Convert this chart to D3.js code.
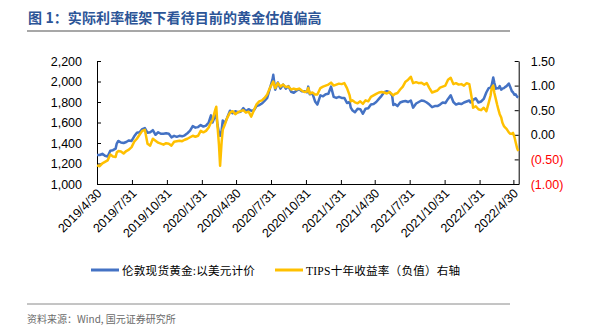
<!DOCTYPE html>
<html><head><meta charset="utf-8">
<script src="https://cdn.jsdelivr.net/npm/d3@7"></script>
<style>
html,body{margin:0;padding:0;background:#fff;}
svg{display:block;}
</style></head>
<body><svg id="c" width="594" height="329"></svg>
<script>
const title = "图 1：实际利率框架下看待目前的黄金估值偏高";
const source = "资料来源：Wind, 国元证券研究所";
const seriesNames = ["伦敦现货黄金:以美元计价", "TIPS十年收益率（负值）右轴"];
const xTickLabels = ["2019/4/30","2019/7/31","2019/10/31","2020/1/31","2020/4/30","2020/7/31","2020/10/31","2021/1/31","2021/4/30","2021/7/31","2021/10/31","2022/1/31","2022/4/30"];
const leftTicks = [1000,1200,1400,1600,1800,2000,2200];
const rightTicks = [-1,-0.5,0,0.5,1,1.5];

const dates = [
"2019-04-30","2019-05-07","2019-05-14","2019-05-21","2019-05-28","2019-06-04","2019-06-11","2019-06-18","2019-06-21","2019-06-25",
"2019-07-02","2019-07-09","2019-07-16","2019-07-23","2019-07-30","2019-08-06","2019-08-13","2019-08-20","2019-08-27","2019-09-03",
"2019-09-10","2019-09-17","2019-09-24","2019-10-01","2019-10-08","2019-10-15","2019-10-22","2019-10-29","2019-11-05","2019-11-12",
"2019-11-19","2019-11-26","2019-12-03","2019-12-10","2019-12-17","2019-12-24","2019-12-31",
"2020-01-07","2020-01-14","2020-01-21","2020-01-28","2020-02-04","2020-02-11","2020-02-18","2020-02-24","2020-02-28","2020-03-06",
"2020-03-09","2020-03-12","2020-03-16","2020-03-19","2020-03-23","2020-03-26","2020-03-31","2020-04-07","2020-04-14","2020-04-21",
"2020-04-28","2020-05-05","2020-05-12","2020-05-19","2020-05-26","2020-06-02","2020-06-09","2020-06-16","2020-06-23","2020-06-30",
"2020-07-07","2020-07-14","2020-07-21","2020-07-28","2020-08-04","2020-08-06","2020-08-11","2020-08-18","2020-08-25","2020-09-01",
"2020-09-08","2020-09-15","2020-09-22","2020-09-29","2020-10-06","2020-10-13","2020-10-20","2020-10-27","2020-11-03","2020-11-06",
"2020-11-10","2020-11-17","2020-11-24","2020-11-30","2020-12-08","2020-12-15","2020-12-22","2020-12-29",
"2021-01-05","2021-01-12","2021-01-19","2021-01-26","2021-02-02","2021-02-09","2021-02-16","2021-02-23","2021-02-26","2021-03-02",
"2021-03-09","2021-03-16","2021-03-23","2021-03-30","2021-04-06","2021-04-13","2021-04-20","2021-04-27","2021-05-04","2021-05-11",
"2021-05-18","2021-05-25","2021-06-01","2021-06-08","2021-06-15","2021-06-18","2021-06-22","2021-06-29","2021-07-06","2021-07-13",
"2021-07-20","2021-07-27","2021-08-03","2021-08-09","2021-08-17","2021-08-24","2021-08-31","2021-09-07","2021-09-14","2021-09-21",
"2021-09-28","2021-10-05","2021-10-12","2021-10-19","2021-10-26","2021-11-02","2021-11-09","2021-11-16","2021-11-23","2021-11-30",
"2021-12-07","2021-12-14","2021-12-21","2021-12-28",
"2022-01-04","2022-01-07","2022-01-11","2022-01-14","2022-01-21","2022-01-28","2022-02-04","2022-02-11","2022-02-18","2022-02-24",
"2022-03-01","2022-03-04","2022-03-08","2022-03-11","2022-03-15","2022-03-18","2022-03-22","2022-03-25","2022-03-29","2022-04-01",
"2022-04-05","2022-04-08","2022-04-12","2022-04-18","2022-04-22","2022-04-26","2022-04-29","2022-05-03","2022-05-06","2022-05-10","2022-05-13"
];

const gold = [
1283,1283,1295,1275,1268,1325,1330,1345,1395,1420,
1405,1400,1410,1425,1420,1465,1500,1505,1535,1545,
1500,1505,1525,1480,1505,1490,1490,1495,1490,1455,
1470,1460,1470,1465,1475,1495,1520,
1565,1550,1555,1575,1560,1570,1600,1670,1600,1665,
1675,1580,1500,1470,1520,1620,1590,1650,1715,1690,
1710,1700,1705,1740,1710,1730,1715,1720,1760,1770,
1785,1810,1840,1930,2020,2065,1920,1990,1930,1970,
1930,1955,1900,1890,1910,1925,1905,1905,1895,1950,
1875,1885,1805,1775,1865,1855,1875,1880,
1950,1850,1840,1850,1840,1840,1790,1800,1745,1720,
1700,1735,1730,1685,1735,1740,1775,1780,1800,1830,
1860,1895,1905,1895,1860,1770,1780,1760,1795,1805,
1810,1800,1815,1745,1785,1800,1815,1810,1795,1775,
1750,1760,1760,1775,1795,1790,1830,1865,1800,1775,
1785,1780,1795,1805,
1815,1795,1810,1820,1835,1795,1805,1830,1895,1935,
1940,1965,2040,1985,1930,1935,1935,1955,1920,1930,
1935,1945,1955,1980,1945,1905,1895,1870,1875,1850,1845
];

const tips = [
-0.62,-0.64,-0.58,-0.55,-0.52,-0.40,-0.44,-0.45,-0.36,-0.33,
-0.34,-0.38,-0.33,-0.30,-0.25,-0.14,-0.08,0.00,0.08,0.10,
-0.18,-0.22,-0.08,-0.12,-0.16,-0.18,-0.20,-0.17,-0.18,-0.22,
-0.14,-0.13,-0.12,-0.13,-0.10,-0.08,-0.05,
-0.02,-0.04,-0.02,0.08,0.05,0.08,0.15,0.25,0.30,0.50,
0.57,0.20,-0.20,-0.63,-0.15,0.10,0.20,0.35,0.45,0.48,
0.42,0.46,0.48,0.50,0.45,0.47,0.37,0.50,0.62,0.68,
0.70,0.75,0.82,0.95,1.05,1.08,0.95,1.05,0.98,1.02,
0.97,0.98,0.92,0.94,0.92,0.94,0.90,0.87,0.88,0.95,
0.84,0.86,0.82,0.82,0.95,0.98,1.00,1.02,
1.06,1.00,1.02,1.04,1.03,1.05,0.95,0.80,0.68,0.70,
0.66,0.64,0.68,0.63,0.70,0.68,0.77,0.80,0.83,0.86,
0.87,0.86,0.84,0.87,0.82,0.80,0.83,0.85,0.92,0.98,
1.08,1.12,1.18,1.05,1.07,1.05,1.06,1.02,1.05,0.95,
0.86,0.88,0.90,0.96,0.98,1.00,1.12,1.16,1.03,1.05,
1.02,1.03,1.00,1.05,
1.03,0.90,0.72,0.55,0.58,0.52,0.50,0.55,0.48,0.65,
0.80,0.95,1.00,0.85,0.72,0.62,0.50,0.42,0.35,0.25,
0.18,0.15,0.12,0.05,0.02,0.02,0.04,-0.05,-0.15,-0.28,-0.33
];

const parse = d3.timeParse("%Y-%m-%d");
const parseTick = d3.timeParse("%Y/%m/%d");
const data = dates.map((d,i)=>({date:parse(d), g:gold[i], t:tips[i]}));
const tickDates = xTickLabels.map(s=>parseTick(s));

const svg = d3.select("#c");
const font = "'Liberation Sans', Arial, sans-serif";
const cjk = "'Noto Sans CJK SC', sans-serif";

// title
svg.append("text").attr("x",28).attr("y",23).text(title)
  .attr("font-family",cjk).attr("font-weight","bold").attr("font-size",14)
  .attr("fill","#2c5597").attr("letter-spacing",0.1);
svg.append("line").attr("x1",27).attr("x2",510).attr("y1",31).attr("y2",31)
  .attr("stroke","#8a8a8a").attr("stroke-width",1.5);

const L = 97, R = 518.7, T = 61, B = 184;
const x = d3.scaleTime().domain([parse("2019-04-30"), parse("2022-05-14")]).range([L, R]);
const yL = d3.scaleLinear().domain([1000,2200]).range([B,T]);
const yR = d3.scaleLinear().domain([-1,1.5]).range([B,T]);

// left axis
const gl = svg.append("g").attr("transform",`translate(${L},0)`)
  .call(d3.axisLeft(yL).tickValues(leftTicks).tickFormat(d3.format(",")).tickSizeInner(-4).tickSizeOuter(0).tickPadding(15));
// right axis
const fmtR = v => v<0 ? "(" + Math.abs(v).toFixed(2) + ")" : v.toFixed(2);
const gr = svg.append("g").attr("transform",`translate(${R},0)`)
  .call(d3.axisRight(yR).tickValues(rightTicks).tickFormat(fmtR).tickSizeInner(-4).tickSizeOuter(0).tickPadding(12));
gr.selectAll(".tick text").attr("fill", d => d<0 ? "#ff0000" : "#000");
// bottom axis
const gb = svg.append("g").attr("transform",`translate(0,${B})`)
  .call(d3.axisBottom(x).tickValues(tickDates).tickFormat((d,i)=>xTickLabels[i]).tickSizeInner(-4).tickSizeOuter(0));
gb.selectAll(".tick text")
  .attr("text-anchor","end").attr("x",0).attr("y",0).attr("dy",0)
  .attr("transform","translate(5,10) rotate(-45)");

[gl,gr,gb].forEach(g=>{
  g.selectAll("text").attr("font-family",font).attr("font-size",12.5);
  g.selectAll("path,line").attr("stroke","#000").attr("stroke-width",1);
});

// lines
const lineG = d3.line().x(d=>x(d.date)).y(d=>yL(d.g));
const lineT = d3.line().x(d=>x(d.date)).y(d=>yR(d.t));
svg.append("path").datum(data).attr("d",lineG).attr("fill","none")
  .attr("stroke","#4472c4").attr("stroke-width",2.5).attr("stroke-linejoin","round");
svg.append("path").datum(data).attr("d",lineT).attr("fill","none")
  .attr("stroke","#ffc000").attr("stroke-width",2.5).attr("stroke-linejoin","round");

// legend
const legend = [{name:seriesNames[0], color:"#4472c4", x:91},{name:seriesNames[1], color:"#ffc000", x:275}];
legend.forEach(l=>{
  svg.append("line").attr("x1",l.x).attr("x2",l.x+28).attr("y1",270).attr("y2",270)
    .attr("stroke",l.color).attr("stroke-width",3);
  svg.append("text").attr("x",l.x+31).attr("y",274.5).text(l.name)
    .attr("font-family","'Liberation Serif', 'Noto Sans CJK SC', serif").attr("font-size",11.6).attr("letter-spacing",0.2).attr("fill","#000");
});

// footer
svg.append("line").attr("x1",27).attr("x2",510).attr("y1",304).attr("y2",304)
  .attr("stroke","#8a8a8a").attr("stroke-width",1);
svg.append("text").attr("x",27).attr("y",323).text(source)
  .attr("font-family",cjk).attr("font-size",10).attr("fill","#6b6b6b");
</script>
</body></html>
